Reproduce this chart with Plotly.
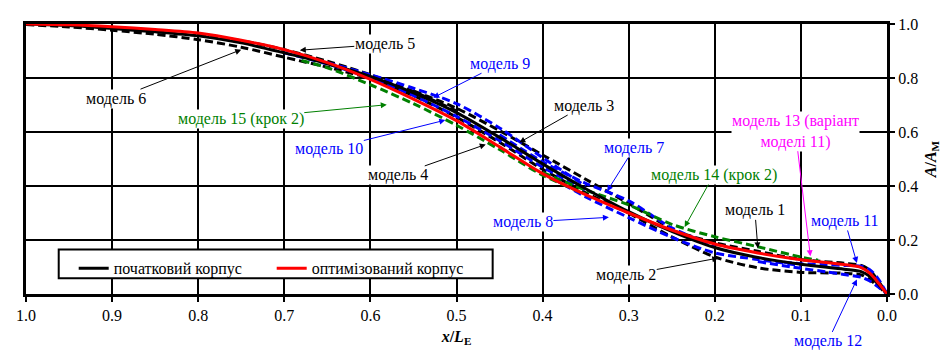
import plotly.graph_objects as go

# ---------------- data ----------------
x_base = [1.0, 0.95, 0.9, 0.85, 0.8, 0.75, 0.7, 0.65, 0.6, 0.55, 0.5, 0.45, 0.4,
          0.35, 0.3, 0.25, 0.2, 0.15, 0.1, 0.05, 0.03, 0.02, 0.01, 0.0]
initial_hull = [1.0, 0.994, 0.983, 0.971, 0.956, 0.930, 0.893, 0.853, 0.806, 0.745, 0.672,
                0.580, 0.482, 0.390, 0.305, 0.232, 0.172, 0.135, 0.110, 0.092, 0.083,
                0.066, 0.036, 0.0]
optimized_hull = [1.0, 0.997, 0.990, 0.980, 0.967, 0.940, 0.905, 0.857, 0.795, 0.722, 0.642,
                  0.545, 0.446, 0.368, 0.300, 0.237, 0.185, 0.152, 0.127, 0.109, 0.098,
                  0.077, 0.041, 0.0]

# black dashed models
m1_x = [0.25, 0.2, 0.15, 0.1, 0.05, 0.03, 0.02, 0.01, 0.0]
m1_y = [0.235, 0.19, 0.158, 0.128, 0.114, 0.106, 0.088, 0.048, 0.0]
m2_x = [0.3, 0.25, 0.2, 0.15, 0.1, 0.05, 0.03, 0.02, 0.01, 0.0]
m2_y = [0.300, 0.212, 0.137, 0.097, 0.080, 0.077, 0.071, 0.053, 0.028, 0.0]
m3_x = [0.55, 0.5, 0.45, 0.4, 0.35, 0.3, 0.25]
m3_y = [0.752, 0.688, 0.605, 0.515, 0.425, 0.335, 0.240]
m4_x = [0.6, 0.55, 0.5, 0.45, 0.4, 0.35, 0.3]
m4_y = [0.800, 0.735, 0.655, 0.562, 0.462, 0.375, 0.300]
m5_x = [0.8, 0.75, 0.7, 0.65, 0.6, 0.55, 0.5]
m5_y = [0.962, 0.938, 0.905, 0.862, 0.812, 0.750, 0.678]
m6_x = [1.0, 0.95, 0.9, 0.85, 0.8, 0.75, 0.7, 0.65, 0.6]
m6_y = [0.998, 0.989, 0.977, 0.962, 0.942, 0.914, 0.877, 0.840, 0.800]

# blue dashed models
m7_x = [0.45, 0.4, 0.35, 0.3, 0.25, 0.2]
m7_y = [0.590, 0.490, 0.410, 0.345, 0.245, 0.178]
m8_x = [0.4, 0.35, 0.3, 0.25, 0.2, 0.15, 0.1]
m8_y = [0.450, 0.360, 0.283, 0.210, 0.152, 0.128, 0.105]
m9_x = [0.65, 0.6, 0.55, 0.5, 0.45, 0.4, 0.35]
m9_y = [0.857, 0.812, 0.762, 0.705, 0.615, 0.505, 0.400]
m10_x = [0.7, 0.65, 0.6, 0.55, 0.5, 0.45, 0.4, 0.35]
m10_y = [0.893, 0.852, 0.800, 0.735, 0.658, 0.568, 0.470, 0.385]
m11_x = [0.12, 0.1, 0.07, 0.05, 0.03, 0.02, 0.01, 0.0]
m11_y = [0.118, 0.112, 0.108, 0.106, 0.103, 0.090, 0.055, 0.0]
m12_x = [0.15, 0.1, 0.07, 0.05, 0.03, 0.02, 0.01, 0.0]
m12_y = [0.120, 0.095, 0.082, 0.072, 0.062, 0.048, 0.026, 0.0]

# green dashed models
m14_x = [0.4, 0.35, 0.3, 0.25, 0.2, 0.15, 0.1, 0.08]
m14_y = [0.450, 0.385, 0.330, 0.258, 0.212, 0.175, 0.137, 0.125]
m15_x = [0.68, 0.65, 0.6, 0.55, 0.5, 0.45, 0.4, 0.35]
m15_y = [0.865, 0.838, 0.775, 0.705, 0.625, 0.535, 0.440, 0.370]

x_ticks = [1.0, 0.9, 0.8, 0.7, 0.6, 0.5, 0.4, 0.3, 0.2, 0.1, 0.0]
y_ticks = [0.0, 0.2, 0.4, 0.6, 0.8, 1.0]

legend_names = ["початковий корпус", "оптимізований корпус"]

BLACK = "#000000"
BLUE = "#0000FF"
GREEN = "#008000"
RED = "#FF0000"
MAGENTA = "#FF00FF"
FONT = "Liberation Serif, Times New Roman, serif"

fig = go.Figure()

dashed = [
    (m6_x, m6_y, BLACK), (m5_x, m5_y, BLACK), (m3_x, m3_y, BLACK), (m4_x, m4_y, BLACK),
    (m1_x, m1_y, BLACK), (m2_x, m2_y, BLACK),
    (m9_x, m9_y, BLUE), (m10_x, m10_y, BLUE), (m7_x, m7_y, BLUE), (m8_x, m8_y, BLUE),
    (m11_x, m11_y, BLUE), (m12_x, m12_y, BLUE),
    (m15_x, m15_y, GREEN), (m14_x, m14_y, GREEN),
]
for xs, ys, c in dashed:
    fig.add_trace(go.Scatter(x=xs, y=ys, mode="lines", showlegend=False, hoverinfo="skip",
                             line=dict(color=c, width=3, dash="8px,4px", shape="spline",
                                       smoothing=0.8)))

fig.add_trace(go.Scatter(x=x_base, y=initial_hull, mode="lines", name=legend_names[0],
                         line=dict(color=BLACK, width=3, shape="spline", smoothing=0.8)))
fig.add_trace(go.Scatter(x=x_base, y=optimized_hull, mode="lines", name=legend_names[1],
                         line=dict(color=RED, width=3, shape="spline", smoothing=0.8)))

# annotations: (text, tip_x, tip_y, ax, ay, color)
notes = [
    ("модель 6", 0.750, 0.905, -125, 49, BLACK),
    ("модель 5", 0.682, 0.903, 85, -6, BLACK),
    ("модель 9", 0.527, 0.727, 67, -34, BLUE),
    ("модель 15 (крок 2)", 0.581, 0.701, -146, 14, GREEN),
    ("модель 10", 0.513, 0.644, -116, 29, BLUE),
    ("модель 4", 0.466, 0.554, -88, 31, BLACK),
    ("модель 3", 0.427, 0.561, 65, -37, BLACK),
    ("модель 7", 0.325, 0.381, 27, -43, BLUE),
    ("модель 8", 0.323, 0.284, -86, 5, BLUE),
    ("модель 14 (крок 2)", 0.235, 0.248, 29, -52, GREEN),
    ("модель 13 (варіант<br>моделі 11)", 0.089, 0.140, -15, -125, MAGENTA),
    ("модель 1", 0.150, 0.169, -3, -38, BLACK),
    ("модель 2", 0.196, 0.133, -92, 17, BLACK),
    ("модель 11", 0.035, 0.115, -12, -42, BLUE),
    ("модель 12", 0.035, 0.054, -29, 62, BLUE),
]
for text, tx, ty, ax, ay, c in notes:
    fig.add_annotation(x=tx, y=ty, ax=ax, ay=ay, text=text, showarrow=True,
                       arrowhead=2, arrowsize=1.2, arrowwidth=1, arrowcolor=c,
                       standoff=0, bgcolor="white", borderpad=0,
                       font=dict(family=FONT, size=16, color=c))

axis_common = dict(
    showgrid=True, gridcolor=BLACK, gridwidth=2,
    showline=True, linecolor=BLACK, linewidth=3, mirror=True,
    zeroline=False, ticks="outside", ticklen=5, tickwidth=2, tickcolor=BLACK,
    tickfont=dict(family=FONT, size=16, color=BLACK), tickformat=".1f",
)

# legend frame
fig.add_shape(type="rect", xref="paper", yref="paper", x0=0.038, x1=0.542, y0=0.058, y1=0.165,
              line=dict(color=BLACK, width=2), fillcolor="white", layer="above")

# the page body has an 8px default margin, so the figure is sized to fit inside it
fig.update_layout(
    width=941, height=348,
    margin=dict(l=12, r=62, t=8, b=62),
    paper_bgcolor="white", plot_bgcolor="white",
    xaxis=dict(range=[1.0, 0.0], tickvals=x_ticks, **axis_common,
               title=dict(text="<b><i>x</i>/<i>L</i><sub>E</sub></b>",
                          font=dict(family=FONT, size=16, color=BLACK), standoff=8)),
    yaxis=dict(range=[0.0, 1.0], tickvals=y_ticks, side="right", **axis_common,
               title=dict(text="<b><i>A</i>/<i>A</i><sub>M</sub></b>",
                          font=dict(family=FONT, size=16, color=BLACK), standoff=8)),
    legend=dict(orientation="h", x=0.0554, y=0.158, xanchor="left", yanchor="top",
                bgcolor="rgba(0,0,0,0)", borderwidth=0,
                font=dict(family=FONT, size=16, color=BLACK),
                entrywidth=153, itemwidth=30),
    showlegend=True,
)

fig.write_html("out.html")
